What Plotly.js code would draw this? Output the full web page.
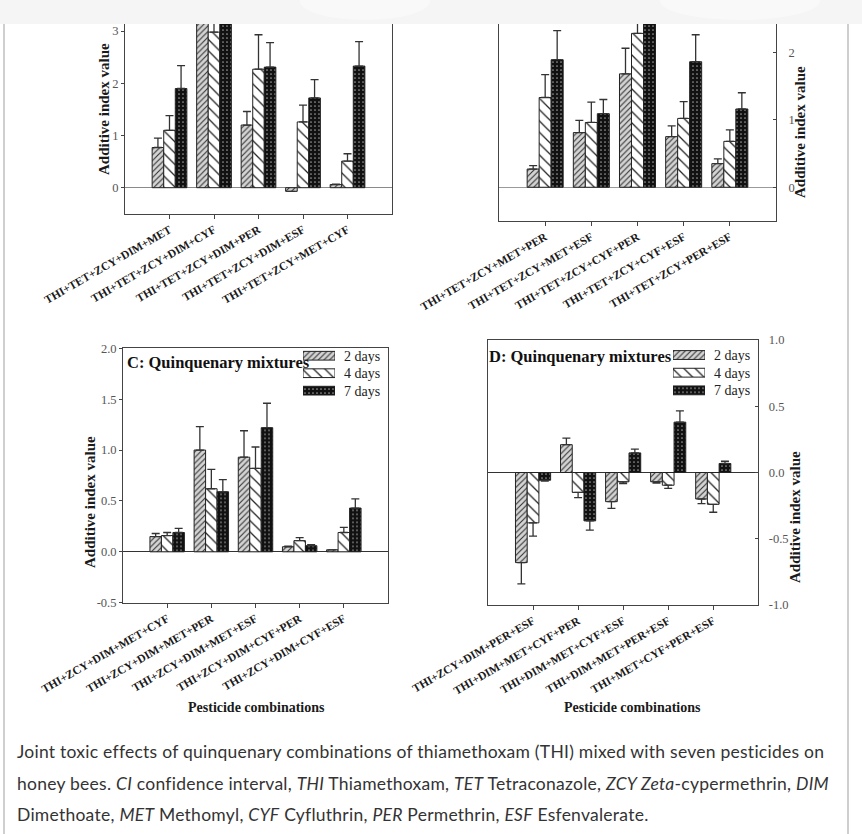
<!DOCTYPE html>
<html>
<head>
<meta charset="utf-8">
<script src="https://cdn.plot.ly/plotly-3.0.1.min.js"></script>
<style>
  html, body { margin:0; padding:0; background:#fff; }
  #wrap { position:relative; width:862px; height:834px; overflow:hidden; }
  #chart { position:absolute; left:0; top:0; width:862px; height:834px; }
  #cap { position:absolute; left:17px; top:736px; font-family:Lato, "Open Sans", sans-serif; font-size:17.5px; letter-spacing:0.25px; color:#333; line-height:31.5px; white-space:nowrap; }
</style>
</head>
<body>
<div id="wrap">
  <div id="chart"></div>
  <div id="cap">Joint toxic effects of quinquenary combinations of thiamethoxam (THI) mixed with seven pesticides on<br>honey bees. <i>CI</i> confidence interval, <i>THI</i> Thiamethoxam, <i>TET</i> Tetraconazole, <i>ZCY Zeta</i>-cypermethrin, <i>DIM</i><br>Dimethoate, <i>MET</i> Methomyl, <i>CYF</i> Cyfluthrin, <i>PER</i> Permethrin, <i>ESF</i> Esfenvalerate.</div>
</div>
<script>
// ---------------- data ----------------
const seriesNames = ['2 days', '4 days', '7 days'];

const catsA = ['THI+TET+ZCY+DIM+MET','THI+TET+ZCY+DIM+CYF','THI+TET+ZCY+DIM+PER','THI+TET+ZCY+DIM+ESF','THI+TET+ZCY+MET+CYF'];
const a2 = [0.77, 3.30, 1.20, -0.07, 0.06];
const a4 = [1.10, 2.98, 2.27, 1.26, 0.51];
const a7 = [1.90, 3.40, 2.31, 1.72, 2.33];
const a2e = [0.18, 0.30, 0.26, 0.00, 0.01];
const a4e = [0.28, 0.40, 0.66, 0.32, 0.14];
const a7e = [0.44, 0.40, 0.47, 0.35, 0.47];

const catsB = ['THI+TET+ZCY+MET+PER','THI+TET+ZCY+MET+ESF','THI+TET+ZCY+CYF+PER','THI+TET+ZCY+CYF+ESF','THI+TET+ZCY+PER+ESF'];
const b2 = [0.27, 0.81, 1.68, 0.75, 0.35];
const b4 = [1.33, 0.96, 2.28, 1.02, 0.68];
const b7 = [1.89, 1.09, 2.60, 1.86, 1.16];
const b2e = [0.05, 0.18, 0.38, 0.16, 0.07];
const b4e = [0.34, 0.30, 0.30, 0.25, 0.17];
const b7e = [0.43, 0.21, 0.30, 0.40, 0.24];

const catsC = ['THI+ZCY+DIM+MET+CYF','THI+ZCY+DIM+MET+PER','THI+ZCY+DIM+MET+ESF','THI+ZCY+DIM+CYF+PER','THI+ZCY+DIM+CYF+ESF'];
const c2 = [0.15, 1.00, 0.93, 0.05, 0.02];
const c4 = [0.16, 0.62, 0.82, 0.11, 0.19];
const c7 = [0.19, 0.59, 1.22, 0.06, 0.43];
const c2e = [0.03, 0.23, 0.26, 0.005, 0.00];
const c4e = [0.03, 0.19, 0.21, 0.03, 0.05];
const c7e = [0.04, 0.12, 0.24, 0.01, 0.09];

const catsD = ['THI+ZCY+DIM+PER+ESF','THI+DIM+MET+CYF+PER','THI+DIM+MET+CYF+ESF','THI+DIM+MET+PER+ESF','THI+MET+CYF+PER+ESF'];
const d2 = [-0.68, 0.21, -0.22, -0.07, -0.20];
const d4 = [-0.38, -0.15, -0.07, -0.096, -0.24];
const d7 = [-0.058, -0.365, 0.148, 0.38, 0.068];
const d2e = [0.16, 0.05, 0.05, 0.01, 0.035];
const d4e = [0.10, 0.04, 0.013, 0.024, 0.06];
const d7e = [0.007, 0.07, 0.028, 0.085, 0.017];

const ticksAB = [0, 1, 2, 3];
const ticksC = [-0.5, 0, 0.5, 1.0, 1.5, 2.0];
const ticksD = [-1.0, -0.5, 0, 0.5, 1.0];

const yTitle = 'Additive index value';
const xTitle = 'Pesticide combinations';
const panelTitles = ['C: Quinquenary mixtures', 'D: Quinquenary mixtures'];

// ---------------- styles ----------------
const W = 862, H = 834;
const px = v => v / W;
const py = v => 1 - v / H;
const SERIF = 'Liberation Serif';

const patterns = [
  {color:'#d4d4d4', pattern:{shape:'/', fgcolor:'#333', bgcolor:'#d4d4d4', size:4, solidity:0.28}},
  {color:'#ffffff', pattern:{shape:'\\', fgcolor:'#222', bgcolor:'#ffffff', size:8, solidity:0.16}},
  {color:'#111111', pattern:{shape:'.', fgcolor:'#9a9a9a', bgcolor:'#111111', size:4, solidity:0.14}}
];

function barTrace(cats, vals, errs, s, xa, ya) {
  const plus = vals.map((v, i) => v >= 0 ? errs[i] : 0);
  const minus = vals.map((v, i) => v < 0 ? errs[i] : 0);
  return {
    type:'bar', x:cats, y:vals, xaxis:xa, yaxis:ya, name:seriesNames[s], showlegend:false,
    marker:{color:patterns[s].color, pattern:patterns[s].pattern, line:{color:'#222', width:1}},
    error_y:{type:'data', symmetric:false, array:plus, arrayminus:minus, color:'#333', thickness:1.3, width:4},
    hoverinfo:'skip'
  };
}

function legendTrace(s, xa, ya) {
  return {
    type:'bar', orientation:'h', y:[seriesNames[s]], x:[1], xaxis:xa, yaxis:ya, showlegend:false,
    width:0.5, offset:-0.25,
    marker:{color:patterns[s].color, pattern:patterns[s].pattern, line:{color:'#222', width:1}},
    hoverinfo:'skip'
  };
}

const traces = [
  barTrace(catsA, a2, a2e, 0, 'x', 'y'),
  barTrace(catsA, a4, a4e, 1, 'x', 'y'),
  barTrace(catsA, a7, a7e, 2, 'x', 'y'),
  barTrace(catsB, b2, b2e, 0, 'x2', 'y2'),
  barTrace(catsB, b4, b4e, 1, 'x2', 'y2'),
  barTrace(catsB, b7, b7e, 2, 'x2', 'y2'),
  barTrace(catsC, c2, c2e, 0, 'x3', 'y3'),
  barTrace(catsC, c4, c4e, 1, 'x3', 'y3'),
  barTrace(catsC, c7, c7e, 2, 'x3', 'y3'),
  barTrace(catsD, d2, d2e, 0, 'x4', 'y4'),
  barTrace(catsD, d4, d4e, 1, 'x4', 'y4'),
  barTrace(catsD, d7, d7e, 2, 'x4', 'y4'),
  legendTrace(0, 'x5', 'y5'), legendTrace(1, 'x5', 'y5'), legendTrace(2, 'x5', 'y5'),
  legendTrace(0, 'x6', 'y6'), legendTrace(1, 'x6', 'y6'), legendTrace(2, 'x6', 'y6')
];

function xAxis(x0, x1, anchor, mirror) {
  return {
    domain:[px(x0), px(x1)], anchor:anchor, type:'category', range:[-1, 5],
    showline:true, linecolor:'#444', linewidth:1, mirror:mirror,
    ticks:'outside', ticklen:4, tickcolor:'#444', tickangle:-30,
    tickfont:{family:SERIF, size:11.5, color:'#1a1a1a', weight:'bold'},
    showgrid:false, zeroline:false, fixedrange:true
  };
}
function yAxis(yt, yb, range, tv, dec, side, anchor, ticks, zc, zw, standoff) {
  const ax = {
    domain:[py(yb), py(yt)], anchor:anchor, range:range, side:side,
    tickmode:'array', tickvals:tv, ticktext:tv.map(v => v.toFixed(dec)),
    showline:true, linecolor:'#444', linewidth:1, mirror:true,
    ticks:ticks, ticklen:3, tickcolor:'#444',
    tickfont:{family:SERIF, size:12.5, color:'#555'},
    showgrid:false, zeroline:true, zerolinecolor:zc, zerolinewidth:zw, fixedrange:true
  };
  if (standoff) ax.ticklabelstandoff = standoff;
  return ax;
}
function legAxes(x0, x1, yt, yb, xa, ya) {
  return [
    {domain:[px(x0), px(x1)], anchor:ya, range:[0, 1], visible:false, fixedrange:true},
    {domain:[py(yb), py(yt)], anchor:xa, type:'category', categoryarray:seriesNames, categoryorder:'array',
     autorange:'reversed', side:'right', showline:false, ticks:'', showgrid:false, zeroline:false,
     ticklabelstandoff:8, tickfont:{family:SERIF, size:14, color:'#222'}, fixedrange:true}
  ];
}
const legC = legAxes(303, 335, 347, 399.4, 'x5', 'y5');
const legD = legAxes(673, 705, 346.2, 399.2, 'x6', 'y6');

const titleFont = {family:SERIF, size:15, color:'#1a1a1a', weight:'bold'};
const xtFont = {family:SERIF, size:14, color:'#1a1a1a', weight:'bold'};
const ptFont = {family:SERIF, size:16.5, color:'#111', weight:'bold'};

const layout = {
  width:W, height:H, margin:{l:0, r:0, t:0, b:0}, paper_bgcolor:'#ffffff', plot_bgcolor:'rgba(0,0,0,0)',
  font:{family:SERIF},
  barmode:'group', bargap:0.22, bargroupgap:0, showlegend:false,
  xaxis: xAxis(125, 392, 'y', false),
  yaxis: yAxis(24, 213.8, [-0.5, 3.136], ticksAB, 0, 'left', 'x', 'outside', '#8a8a8a', 1.5, 0),
  xaxis2: xAxis(499, 776, 'y2', false),
  yaxis2: yAxis(24, 221, [-0.5, 2.419], ticksAB, 0, 'right', 'x2', 'inside', '#9a9a9a', 1.5, 9),
  xaxis3: xAxis(123, 388, 'y3', true),
  yaxis3: yAxis(348.3, 602.7, [-0.5, 2.0], ticksC, 1, 'left', 'x3', 'outside', '#333', 1, 0),
  xaxis4: xAxis(488, 758.3, 'y4', true),
  yaxis4: yAxis(340, 605, [-1, 1], ticksD, 1, 'right', 'x4', 'inside', '#333', 1, 7),
  xaxis5: legC[0], yaxis5: legC[1],
  xaxis6: legD[0], yaxis6: legD[1],
  shapes: [
    {type:'rect', xref:'paper', yref:'paper', x0:0, x1:1, y0:py(24), y1:1, fillcolor:'#f5f5f5', line:{width:0}, layer:'below'},
    {type:'circle', xref:'paper', yref:'paper', x0:px(300), x1:px(430), y0:py(20), y1:py(-18), fillcolor:'#ffffff', opacity:0.4, line:{width:0}, layer:'below'},
    {type:'circle', xref:'paper', yref:'paper', x0:px(660), x1:px(820), y0:py(20), y1:py(-18), fillcolor:'#ffffff', opacity:0.4, line:{width:0}, layer:'below'},
    {type:'line', xref:'paper', yref:'paper', x0:px(4), x1:px(4), y0:0, y1:py(24), line:{color:'#cfcfcf', width:2}},
    {type:'line', xref:'paper', yref:'paper', x0:px(848), x1:px(848), y0:0, y1:py(24), line:{color:'#cfcfcf', width:2}}
  ],
  annotations: [
    {text:yTitle, xref:'paper', yref:'paper', x:px(104), y:py(109), textangle:-90, showarrow:false, font:titleFont, xanchor:'center', yanchor:'middle'},
    {text:yTitle, xref:'paper', yref:'paper', x:px(800), y:py(132), textangle:-90, showarrow:false, font:titleFont, xanchor:'center', yanchor:'middle'},
    {text:yTitle, xref:'paper', yref:'paper', x:px(90), y:py(502), textangle:-90, showarrow:false, font:titleFont, xanchor:'center', yanchor:'middle'},
    {text:yTitle, xref:'paper', yref:'paper', x:px(795), y:py(517), textangle:-90, showarrow:false, font:titleFont, xanchor:'center', yanchor:'middle'},
    {text:xTitle, xref:'paper', yref:'paper', x:px(256), y:py(707.5), showarrow:false, font:xtFont, xanchor:'center', yanchor:'middle'},
    {text:xTitle, xref:'paper', yref:'paper', x:px(632), y:py(707), showarrow:false, font:xtFont, xanchor:'center', yanchor:'middle'},
    {text:panelTitles[0], xref:'paper', yref:'paper', x:px(125), y:py(362), showarrow:false, font:ptFont, xanchor:'left', yanchor:'middle'},
    {text:panelTitles[1], xref:'paper', yref:'paper', x:px(487), y:py(356), showarrow:false, font:ptFont, xanchor:'left', yanchor:'middle'}
  ]
};

Plotly.newPlot('chart', traces, layout, {staticPlot:true, displayModeBar:false});
</script>
</body>
</html>
